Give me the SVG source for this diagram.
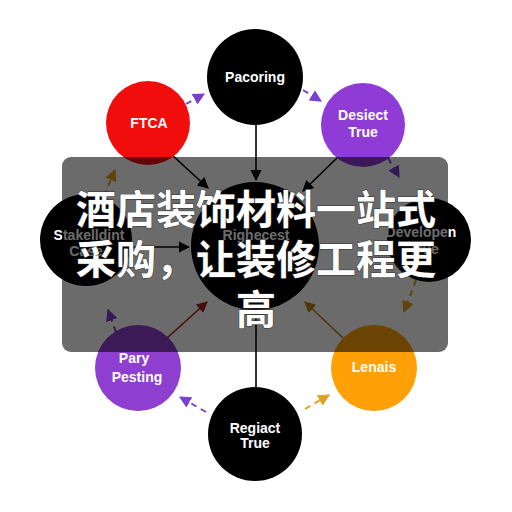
<svg xmlns="http://www.w3.org/2000/svg" width="512" height="512" viewBox="0 0 512 512">
<style>
.lbl{font-family:"Liberation Sans",Arial,sans-serif;font-weight:bold;font-size:14px;fill:#fff;text-anchor:middle}
.solid{fill:none;stroke-width:1.6}
.dash{fill:none;stroke-width:2;stroke-dasharray:6 5}
.title{font-family:"Noto Sans CJK SC","Noto Sans",sans-serif;font-weight:bold;font-size:40px;fill:#fff;text-anchor:middle;stroke:#333;stroke-width:1;paint-order:stroke}
</style>
<defs>
<marker id="ak" viewBox="0 0 10 10" refX="9" refY="5" markerWidth="7" markerHeight="7" orient="auto"><path d="M0 0L10 5L0 10z" fill="#000"/></marker>
<marker id="ap" viewBox="0 0 10 10" refX="9" refY="5" markerWidth="6" markerHeight="6" orient="auto"><path d="M0 0L10 5L0 10z" fill="#7b3fd0"/></marker>
<marker id="ao" viewBox="0 0 10 10" refX="9" refY="5" markerWidth="6" markerHeight="6" orient="auto"><path d="M0 0L10 5L0 10z" fill="#e0a020"/></marker>
<marker id="ar" viewBox="0 0 10 10" refX="9" refY="5" markerWidth="7" markerHeight="7" orient="auto"><path d="M0 0L10 5L0 10z" fill="#b02020"/></marker>
<marker id="ab" viewBox="0 0 10 10" refX="9" refY="5" markerWidth="7" markerHeight="7" orient="auto"><path d="M0 0L10 5L0 10z" fill="#b88018"/></marker>
</defs>
<rect width="512" height="512" fill="#fff"/>
<g id="connectors">
<path class="solid" stroke="#000" d="M256 125L256 180" marker-end="url(#ak)"/>
<path class="solid" stroke="#000" d="M172 155L208 188" marker-end="url(#ak)"/>
<path class="solid" stroke="#000" d="M338 157L303 191" marker-end="url(#ak)"/>
<path class="solid" stroke="#000" d="M132 247L189 247" marker-end="url(#ak)"/>
<path class="solid" stroke="#b02020" d="M167 338L207 302" marker-end="url(#ar)"/>
<path class="solid" stroke="#b88018" d="M343 338L305 302" marker-end="url(#ab)"/>
<path class="solid" stroke="#000" d="M256 387L256 313"/>
<path class="dash" stroke="#7b3fd0" d="M186 104L204 94" marker-end="url(#ap)"/>
<path class="dash" stroke="#7b3fd0" d="M303 90L321 101" marker-end="url(#ap)"/>
<path class="dash" stroke="#7b3fd0" d="M388 158L399 177" marker-end="url(#ap)"/>
<path class="dash" stroke="#e0a020" d="M416 280L404 312" marker-end="url(#ao)"/>
<path class="dash" stroke="#e0a020" d="M305 409L329 395" marker-end="url(#ao)"/>
<path class="dash" stroke="#7b3fd0" d="M206 412L180 397" marker-end="url(#ap)"/>
<path class="dash" stroke="#7b3fd0" d="M116 332L108 310" marker-end="url(#ap)"/>
<path class="dash" stroke="#e0a020" d="M104 196L115 170" marker-end="url(#ao)"/>
</g>
<g id="n-pacoring"><circle cx="255" cy="77" r="48" fill="#000"/><text class="lbl" x="255" y="82">Pacoring</text></g>
<g id="n-ftca"><circle cx="148" cy="123" r="42" fill="#f20d0d"/><text class="lbl" x="149" y="128">FTCA</text></g>
<g id="n-desiect"><circle cx="363" cy="125" r="42" fill="#8f3bd5"/><text class="lbl" x="363" y="120">Desiect</text><text class="lbl" x="363" y="137">True</text></g>
<g id="n-stake"><circle cx="86" cy="240" r="46" fill="#000"/><text class="lbl" x="89" y="240">Stakelldint</text><text class="lbl" x="86" y="256">Case</text></g>
<g id="n-dev"><circle cx="429" cy="240" r="42" fill="#000"/><text class="lbl" x="421" y="237">Developen</text><text class="lbl" x="424" y="254">True</text></g>
<g id="n-center"><circle cx="255" cy="246" r="64" fill="#000"/><text class="lbl" x="256" y="240">Righecest</text></g>
<g id="n-pary"><circle cx="138" cy="368" r="43" fill="#8e3fcf"/><text class="lbl" x="134" y="363">Pary</text><text class="lbl" x="137" y="382">Pesting</text></g>
<g id="n-lenais"><circle cx="374" cy="368" r="43" fill="#ffa006"/><text class="lbl" x="374" y="372">Lenais</text></g>
<g id="n-regiact"><circle cx="255" cy="434" r="47" fill="#000"/><text class="lbl" x="255" y="433">Regiact</text><text class="lbl" x="255" y="448">True</text></g>
<rect x="62" y="157" width="386" height="195" rx="9" fill="#000" fill-opacity="0.58"/>
<g id="title">
<text class="title" x="256" y="224">酒店装饰材料一站式</text>
<text class="title" x="256" y="274">采购，让装修工程更</text>
<text class="title" x="256" y="324">高</text>
</g>
</svg>
